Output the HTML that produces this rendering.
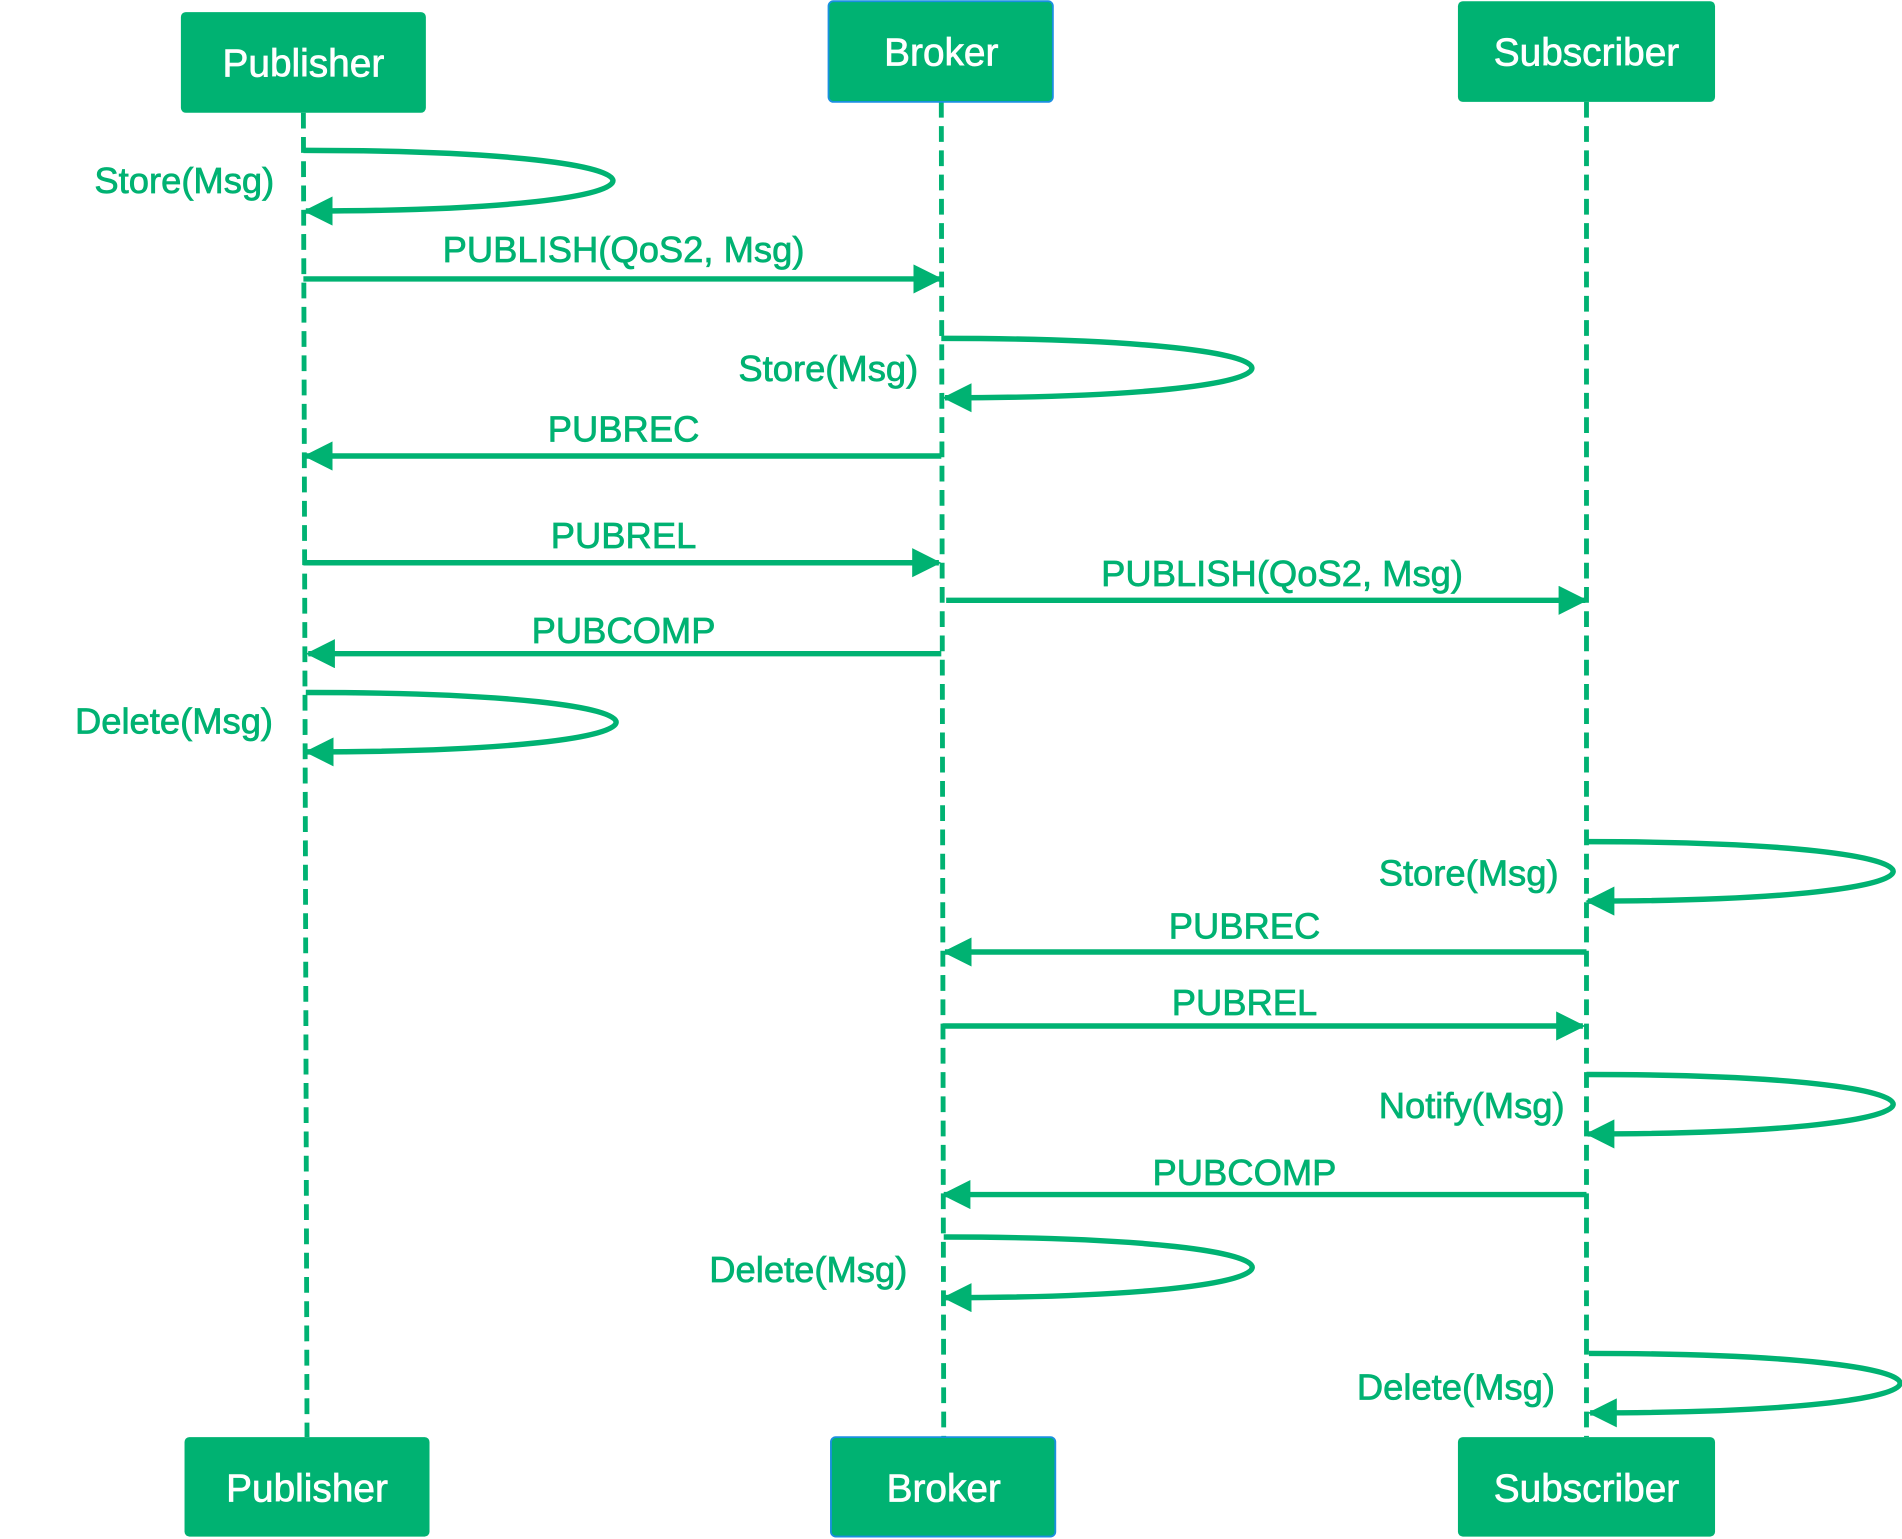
<!DOCTYPE html>
<html><head><meta charset="utf-8"><style>html,body{margin:0;padding:0;background:#fff}svg{display:block}</style></head><body>
<svg width="1902" height="1539" viewBox="0 0 1568 1269" xmlns="http://www.w3.org/2000/svg" font-family="Liberation Sans, sans-serif">
<defs>
<marker id="b" markerWidth="24" markerHeight="24" refX="22" refY="12" orient="auto" markerUnits="userSpaceOnUse"><path d="M0,0 L24,12 L0,24 z" fill="#00b272"/></marker></defs>
<g stroke="#00b272" stroke-width="4" stroke-dasharray="13,7" fill="none">
<line x1="250" y1="93" x2="253" y2="1185"/><line x1="776" y1="84" x2="778" y2="1185"/><line x1="1308" y1="84" x2="1308" y2="1185"/>
</g>
<g fill="#00b272">
<rect x="149" y="10" width="202" height="83" rx="4"/><rect x="683" y="1" width="185" height="83" rx="4" stroke="#1a8fe0" stroke-width="1.5"/><rect x="1202" y="1" width="212" height="83" rx="4"/>
<rect x="152" y="1185" width="202" height="82" rx="4"/><rect x="685" y="1185" width="185" height="82" rx="4" stroke="#1a8fe0" stroke-width="1.5"/><rect x="1202" y="1185" width="212" height="82" rx="4"/>
</g>
<g fill="#fff" font-size="32" text-anchor="middle" stroke="#fff" stroke-width="0.6">
<text x="250" y="63">Publisher</text><text x="776" y="54">Broker</text><text x="1308" y="54">Subscriber</text>
<text x="253" y="1238">Publisher</text><text x="778" y="1238">Broker</text><text x="1308" y="1238">Subscriber</text>
</g>
<g stroke="#00b272" stroke-width="4.5" fill="none" marker-end="url(#b)">
<path d="M250,124 C590,124 590,174 252,174"/>
<line x1="250" y1="230" x2="775" y2="230"/>
<path d="M776,279 C1117,279 1117,328 779,328"/>
<line x1="776" y1="376" x2="252" y2="376"/>
<line x1="250" y1="464" x2="774" y2="464"/>
<line x1="780" y1="495" x2="1307" y2="495"/>
<line x1="776" y1="539" x2="254" y2="539"/>
<path d="M252,571 C593,571 593,620 253,620"/>
<path d="M1308,694 C1645,694 1645,743 1309,743"/>
<line x1="1308" y1="785" x2="779" y2="785"/>
<line x1="777" y1="846" x2="1305" y2="846"/>
<path d="M1308,886 C1645,886 1645,935 1309,935"/>
<line x1="1308" y1="985" x2="778" y2="985"/>
<path d="M778,1020 C1117,1020 1117,1070 779,1070"/>
<path d="M1310,1116 C1652,1116 1652,1165 1311,1165"/>
</g>
<g fill="#00b272" font-size="30" stroke="#00b272" stroke-width="0.6">
<g text-anchor="end">
<text x="226" y="159">Store(Msg)</text><text x="757" y="314">Store(Msg)</text><text x="225" y="605">Delete(Msg)</text>
<text x="1285" y="730">Store(Msg)</text><text x="1290" y="922">Notify(Msg)</text><text x="748" y="1057">Delete(Msg)</text><text x="1282" y="1154">Delete(Msg)</text>
</g>
<g text-anchor="middle">
<text x="514" y="216">PUBLISH(QoS2, Msg)</text><text x="514" y="364">PUBREC</text><text x="514" y="452">PUBREL</text>
<text x="1057" y="483">PUBLISH(QoS2, Msg)</text><text x="514" y="530">PUBCOMP</text>
<text x="1026" y="774">PUBREC</text><text x="1026" y="837">PUBREL</text><text x="1026" y="977">PUBCOMP</text>
</g></g>
</svg>
</body></html>
